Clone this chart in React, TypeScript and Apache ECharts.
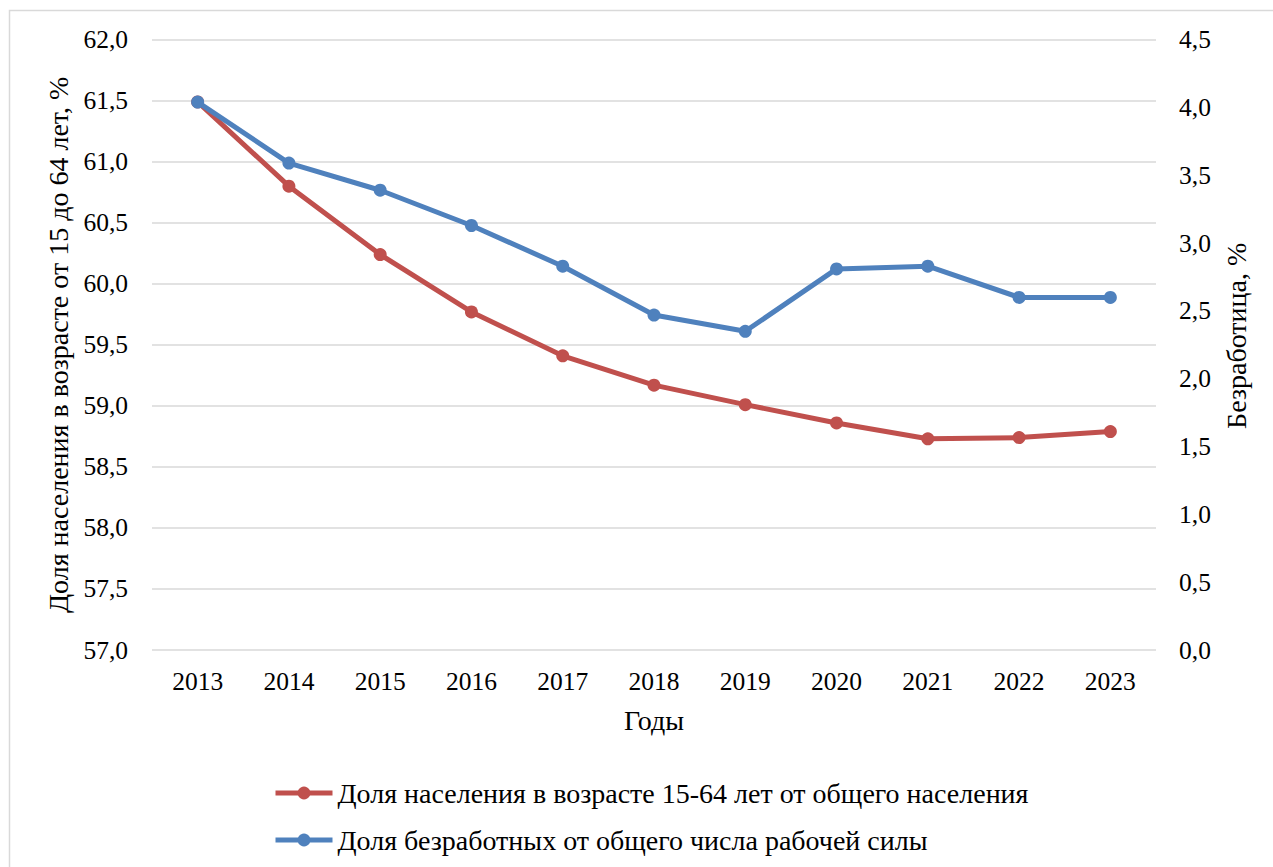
import React, { useEffect, useRef } from "react";
import * as echarts from "echarts";

// Годы наблюдения
const years = ["2013", "2014", "2015", "2016", "2017", "2018", "2019", "2020", "2021", "2022", "2023"];

// Доля населения 15-64 лет, % (левая ось)
const workingAgeShare = [61.49, 60.8, 60.24, 59.77, 59.41, 59.17, 59.01, 58.86, 58.73, 58.74, 58.79];

// Безработица, % (правая ось)
const unemploymentRate = [4.04, 3.59, 3.39, 3.13, 2.83, 2.47, 2.35, 2.81, 2.83, 2.6, 2.6];

const seriesNames = [
  "Доля населения в возрасте 15-64 лет от общего населения",
  "Доля безработных от общего числа рабочей силы",
];

const FONT = "Liberation Serif";
const RED = "#C0504D";
const BLUE = "#4F81BD";
const GRID_COLOR = "#D9D9D9";

const fmt = (v: number) => v.toFixed(1).replace(".", ",");

export default function App() {
  const ref = useRef<HTMLDivElement>(null);

  useEffect(() => {
    if (!ref.current) return;
    const chart = echarts.init(ref.current, null, { renderer: "svg" });
    const tickText = { fontFamily: FONT, fontSize: 25.5, color: "#000" };
    const titleText = { fontFamily: FONT, fontSize: 28, color: "#000" };

    chart.setOption({
      animation: false,
      backgroundColor: "#fff",
      textStyle: { fontFamily: FONT },
      graphic: [
        {
          type: "rect",
          shape: { x: 9.5, y: 10.5, width: 1300, height: 900 },
          style: { fill: "none", stroke: GRID_COLOR, lineWidth: 1.5 },
          silent: true,
        },
      ],
      grid: { left: 152, right: 117, top: 39.7, bottom: 217 },
      legend: {
        orient: "vertical",
        left: 273,
        top: 778,
        padding: 0,
        itemWidth: 57,
        itemHeight: 16,
        itemGap: 17,
        lineStyle: { width: 5 },
        textStyle: { ...titleText, lineHeight: 30 },
        data: seriesNames,
      },
      xAxis: {
        type: "category",
        data: years,
        boundaryGap: true,
        axisLine: { show: false },
        axisTick: { show: false },
        axisLabel: { ...tickText, margin: 18 },
        name: "Годы",
        nameLocation: "middle",
        nameGap: 56,
        nameTextStyle: { ...titleText, verticalAlign: "top" },
      },
      yAxis: [
        {
          type: "value",
          min: 57,
          max: 62,
          interval: 0.5,
          axisLine: { show: false },
          axisTick: { show: false },
          splitLine: { lineStyle: { color: GRID_COLOR, width: 1.5 } },
          axisLabel: { ...tickText, margin: 24, formatter: fmt },
          name: "Доля населения в возрасте от 15 до 64 лет, %",
          nameLocation: "middle",
          nameRotate: 90,
          nameGap: 80,
          nameTextStyle: titleText,
        },
        {
          type: "value",
          min: 0,
          max: 4.5,
          interval: 0.5,
          position: "right",
          axisLine: { show: false },
          axisTick: { show: false },
          splitLine: { show: false },
          axisLabel: { ...tickText, margin: 23, formatter: fmt },
          name: "Безработица, %",
          nameLocation: "middle",
          nameRotate: 90,
          nameGap: 66,
          nameTextStyle: { ...titleText, padding: [0, 0, 0, 18] },
        },
      ],
      series: [
        {
          name: seriesNames[0],
          type: "line",
          yAxisIndex: 0,
          data: workingAgeShare,
          symbol: "circle",
          symbolSize: 13,
          lineStyle: { color: RED, width: 5 },
          itemStyle: { color: RED },
          z: 2,
        },
        {
          name: seriesNames[1],
          type: "line",
          yAxisIndex: 1,
          data: unemploymentRate,
          symbol: "circle",
          symbolSize: 13,
          lineStyle: { color: BLUE, width: 5 },
          itemStyle: { color: BLUE },
          z: 3,
        },
      ],
    });

    return () => chart.dispose();
  }, []);

  return (
    <div
      ref={ref}
      style={{ position: "fixed", left: 0, top: 0, width: 1273, height: 867 }}
    />
  );
}
